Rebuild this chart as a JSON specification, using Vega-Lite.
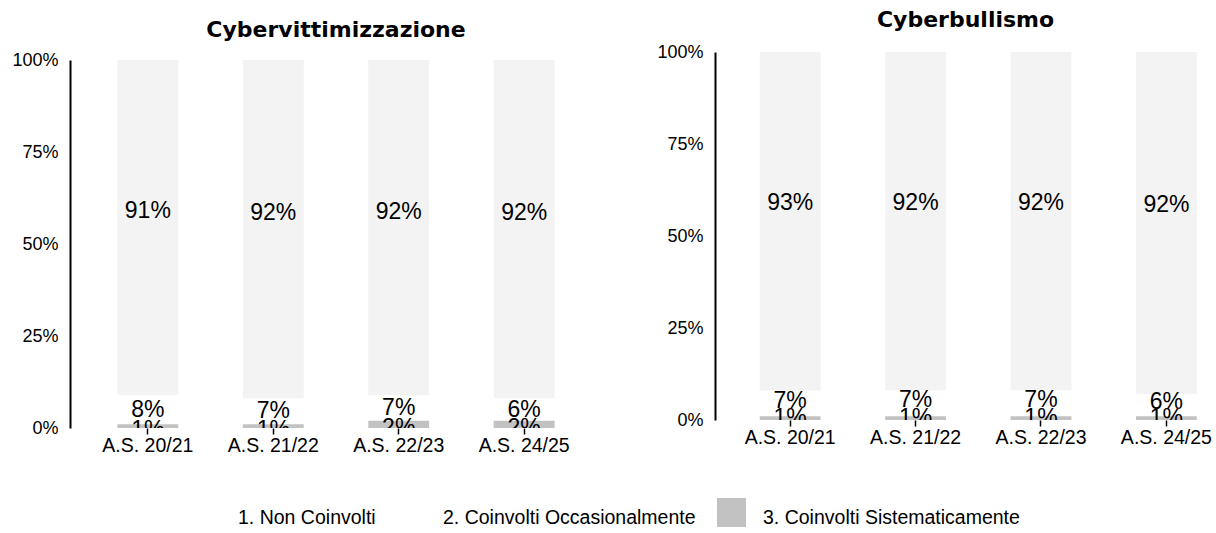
{
  "$schema": "https://vega.github.io/schema/vega-lite/v6.json",
  "background": "white",
  "padding": {"left": 11, "top": 9, "right": 0, "bottom": 0},
  "spacing": 54,
  "data": {
    "values": [
      {"panel": "Cybervittimizzazione", "anno": "A.S. 20/21", "categoria": "1. Non Coinvolti", "valore": 0.91},
      {"panel": "Cybervittimizzazione", "anno": "A.S. 20/21", "categoria": "2. Coinvolti Occasionalmente", "valore": 0.08},
      {"panel": "Cybervittimizzazione", "anno": "A.S. 20/21", "categoria": "3. Coinvolti Sistematicamente", "valore": 0.01},
      {"panel": "Cybervittimizzazione", "anno": "A.S. 21/22", "categoria": "1. Non Coinvolti", "valore": 0.92},
      {"panel": "Cybervittimizzazione", "anno": "A.S. 21/22", "categoria": "2. Coinvolti Occasionalmente", "valore": 0.07},
      {"panel": "Cybervittimizzazione", "anno": "A.S. 21/22", "categoria": "3. Coinvolti Sistematicamente", "valore": 0.01},
      {"panel": "Cybervittimizzazione", "anno": "A.S. 22/23", "categoria": "1. Non Coinvolti", "valore": 0.92},
      {"panel": "Cybervittimizzazione", "anno": "A.S. 22/23", "categoria": "2. Coinvolti Occasionalmente", "valore": 0.07},
      {"panel": "Cybervittimizzazione", "anno": "A.S. 22/23", "categoria": "3. Coinvolti Sistematicamente", "valore": 0.02},
      {"panel": "Cybervittimizzazione", "anno": "A.S. 24/25", "categoria": "1. Non Coinvolti", "valore": 0.92},
      {"panel": "Cybervittimizzazione", "anno": "A.S. 24/25", "categoria": "2. Coinvolti Occasionalmente", "valore": 0.06},
      {"panel": "Cybervittimizzazione", "anno": "A.S. 24/25", "categoria": "3. Coinvolti Sistematicamente", "valore": 0.02},
      {"panel": "Cyberbullismo", "anno": "A.S. 20/21", "categoria": "1. Non Coinvolti", "valore": 0.93},
      {"panel": "Cyberbullismo", "anno": "A.S. 20/21", "categoria": "2. Coinvolti Occasionalmente", "valore": 0.07},
      {"panel": "Cyberbullismo", "anno": "A.S. 20/21", "categoria": "3. Coinvolti Sistematicamente", "valore": 0.01},
      {"panel": "Cyberbullismo", "anno": "A.S. 21/22", "categoria": "1. Non Coinvolti", "valore": 0.92},
      {"panel": "Cyberbullismo", "anno": "A.S. 21/22", "categoria": "2. Coinvolti Occasionalmente", "valore": 0.07},
      {"panel": "Cyberbullismo", "anno": "A.S. 21/22", "categoria": "3. Coinvolti Sistematicamente", "valore": 0.01},
      {"panel": "Cyberbullismo", "anno": "A.S. 22/23", "categoria": "1. Non Coinvolti", "valore": 0.92},
      {"panel": "Cyberbullismo", "anno": "A.S. 22/23", "categoria": "2. Coinvolti Occasionalmente", "valore": 0.07},
      {"panel": "Cyberbullismo", "anno": "A.S. 22/23", "categoria": "3. Coinvolti Sistematicamente", "valore": 0.01},
      {"panel": "Cyberbullismo", "anno": "A.S. 24/25", "categoria": "1. Non Coinvolti", "valore": 0.92},
      {"panel": "Cyberbullismo", "anno": "A.S. 24/25", "categoria": "2. Coinvolti Occasionalmente", "valore": 0.06},
      {"panel": "Cyberbullismo", "anno": "A.S. 24/25", "categoria": "3. Coinvolti Sistematicamente", "valore": 0.01}
    ]
  },
  "config": {
    "view": {"stroke": null},
    "font": "Liberation Sans",
    "title": {"font": "DejaVu Sans", "fontWeight": "bold", "fontSize": 22, "color": "black", "anchor": "middle"}
  },
  "resolve": {"scale": {"color": "shared"}},
  "hconcat": [
    {
      "title": {"text": "Cybervittimizzazione", "offset": 9},
      "width": 532,
      "height": 376,
      "transform": [{"filter": "datum.panel === 'Cybervittimizzazione'"}],
      "encoding": {
        "x": {"field": "anno", "type": "nominal", "sort": null,
          "scale": {"paddingInner": 0.515, "paddingOuter": 0.378},
          "axis": {"title": null, "labelAngle": 0, "domain": false, "ticks": true, "tickSize": 6, "tickColor": "black", "tickWidth": 1.5, "labelFontSize": 19.5, "labelPadding": 2, "labelColor": "black", "labelFont": "Liberation Sans"}},
        "y": {"field": "valore", "type": "quantitative", "stack": "normalize",
          "scale": {"domain": [0, 1], "nice": false, "range": [376, 8]},
          "axis": {"title": null, "format": ".0%", "values": [0, 0.25, 0.5, 0.75, 1], "grid": false, "ticks": false, "domain": true, "domainColor": "black", "domainWidth": 2, "labelFontSize": 18, "labelPadding": 12, "labelColor": "black", "labelFont": "Liberation Sans"}},
        "order": {"field": "categoria", "sort": "descending"}
      },
      "layer": [
        {
          "mark": {"type": "bar"},
          "encoding": {
            "color": {"field": "categoria", "type": "nominal",
              "scale": {"domain": ["1. Non Coinvolti", "2. Coinvolti Occasionalmente", "3. Coinvolti Sistematicamente"], "range": ["#f3f3f3", "#ffffff", "#c2c2c2"]},
              "legend": {"title": null, "orient": "none", "legendX": 122, "legendY": 446, "direction": "horizontal", "symbolType": "square", "symbolSize": 840, "symbolStrokeWidth": 0, "labelFontSize": 19.5, "labelFont": "Liberation Sans", "labelColor": "black", "labelOffset": 17, "columnPadding": 21, "labelLimit": 400,
                "encode": {
                  "symbols": {"update": {"opacity": {"signal": "datum.value === '3. Coinvolti Sistematicamente' ? 1 : 0"}}},
                  "labels": {"update": {"dy": {"value": 5}}}
                }}}
          }
        },
        {
          "mark": {"type": "text", "fontSize": 23, "dy": -16, "color": "black"},
          "encoding": {
            "y": {"field": "valore", "type": "quantitative", "stack": "normalize", "bandPosition": 0.5},
            "text": {"condition": {"test": "datum.categoria === '1. Non Coinvolti'", "field": "valore", "type": "quantitative", "format": ".0%"}, "value": ""}
          }
        },
        {
          "mark": {"type": "text", "fontSize": 23, "dy": 0, "color": "black"},
          "encoding": {
            "y": {"field": "valore", "type": "quantitative", "stack": "normalize", "bandPosition": 0.5},
            "text": {"condition": {"test": "datum.categoria === '2. Coinvolti Occasionalmente'", "field": "valore", "type": "quantitative", "format": ".0%"}, "value": ""}
          }
        },
        {
          "mark": {"type": "text", "fontSize": 23, "dy": 4, "color": "black", "clip": true},
          "encoding": {
            "y": {"field": "valore", "type": "quantitative", "stack": "normalize", "bandPosition": 0.5},
            "text": {"condition": {"test": "datum.categoria === '3. Coinvolti Sistematicamente'", "field": "valore", "type": "quantitative", "format": ".0%"}, "value": ""}
          }
        }
      ]
    },
    {
      "title": {"text": "Cyberbullismo", "offset": 11},
      "width": 501,
      "height": 368,
      "transform": [{"filter": "datum.panel === 'Cyberbullismo'"}],
      "encoding": {
        "x": {"field": "anno", "type": "nominal", "sort": null,
          "scale": {"paddingInner": 0.515, "paddingOuter": 0.255, "align": 0.7},
          "axis": {"title": null, "labelAngle": 0, "domain": false, "ticks": true, "tickSize": 6, "tickColor": "black", "tickWidth": 1.5, "labelFontSize": 19.5, "labelPadding": 2, "labelColor": "black", "labelFont": "Liberation Sans"}},
        "y": {"field": "valore", "type": "quantitative", "stack": "normalize",
          "scale": {"domain": [0, 1], "nice": false},
          "axis": {"title": null, "format": ".0%", "values": [0, 0.25, 0.5, 0.75, 1], "grid": false, "ticks": false, "domain": true, "domainColor": "black", "domainWidth": 2, "labelFontSize": 18, "labelPadding": 12, "labelColor": "black", "labelFont": "Liberation Sans"}},
        "order": {"field": "categoria", "sort": "descending"}
      },
      "layer": [
        {
          "mark": {"type": "bar"},
          "encoding": {
            "color": {"field": "categoria", "type": "nominal"}
          }
        },
        {
          "mark": {"type": "text", "fontSize": 23, "dy": -18, "color": "black"},
          "encoding": {
            "y": {"field": "valore", "type": "quantitative", "stack": "normalize", "bandPosition": 0.5},
            "text": {"condition": {"test": "datum.categoria === '1. Non Coinvolti'", "field": "valore", "type": "quantitative", "format": ".0%"}, "value": ""}
          }
        },
        {
          "mark": {"type": "text", "fontSize": 23, "dy": -3, "color": "black"},
          "encoding": {
            "y": {"field": "valore", "type": "quantitative", "stack": "normalize", "bandPosition": 0.5},
            "text": {"condition": {"test": "datum.categoria === '2. Coinvolti Occasionalmente'", "field": "valore", "type": "quantitative", "format": ".0%"}, "value": ""}
          }
        },
        {
          "mark": {"type": "text", "fontSize": 23, "dy": 0, "color": "black", "clip": true},
          "encoding": {
            "y": {"field": "valore", "type": "quantitative", "stack": "normalize", "bandPosition": 0.5},
            "text": {"condition": {"test": "datum.categoria === '3. Coinvolti Sistematicamente'", "field": "valore", "type": "quantitative", "format": ".0%"}, "value": ""}
          }
        }
      ]
    }
  ]
}
